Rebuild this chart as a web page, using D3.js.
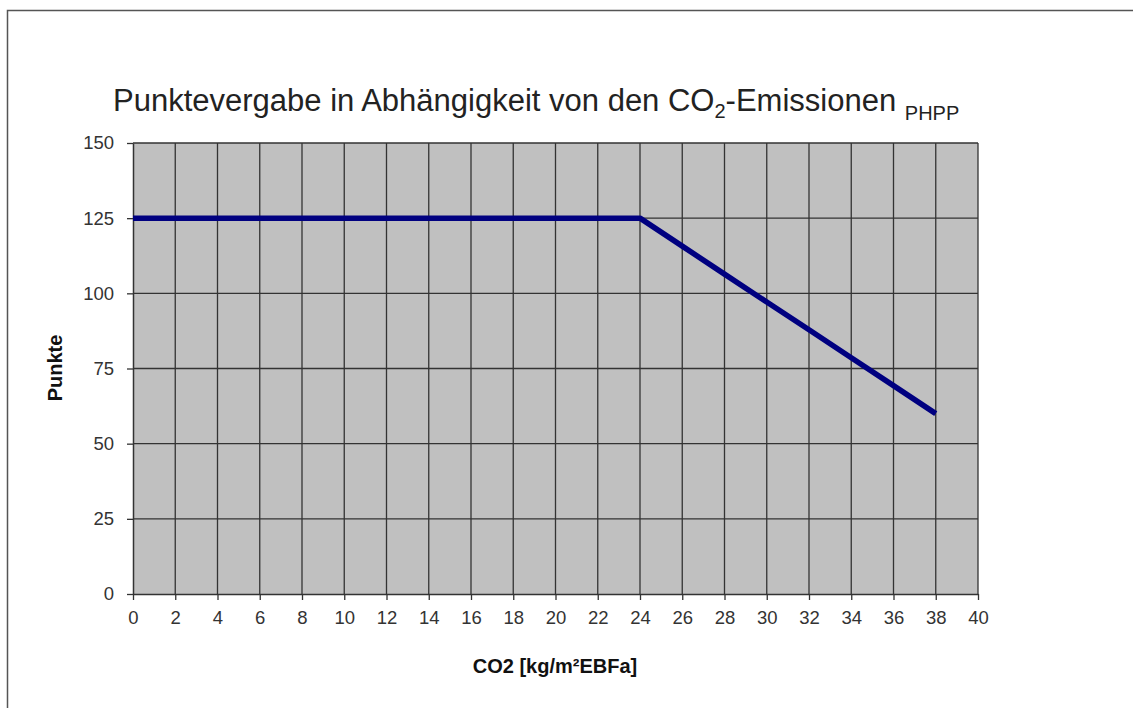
<!DOCTYPE html>
<html><head><meta charset="utf-8">
<script src="https://cdn.jsdelivr.net/npm/d3@7"></script>
<style>body{margin:0;background:#fff;} svg{display:block;font-family:"Liberation Sans",Arial,sans-serif;}</style>
</head><body>
<svg id="c" width="1133" height="708"></svg>
<script>
const xValues = [0, 2, 4, 6, 8, 10, 12, 14, 16, 18, 20, 22, 24, 26, 28, 30, 32, 34, 36, 38];
const yValues = [125, 125, 125, 125, 125, 125, 125, 125, 125, 125, 125, 125, 125, 115.7, 106.4, 97.1, 87.9, 78.6, 69.3, 60];
const xTicks = [0,2,4,6,8,10,12,14,16,18,20,22,24,26,28,30,32,34,36,38,40];
const yTicks = [0,25,50,75,100,125,150];
const titleMain = "Punktevergabe in Abhängigkeit von den CO";
const xLabel = "CO2 [kg/m²EBFa]";
const yLabel = "Punkte";

const svg = d3.select("#c");
// outer border
svg.append("rect").attr("x",7.5).attr("y",10.5).attr("width",1140).attr("height",720)
  .attr("fill","none").attr("stroke","#555").attr("stroke-width",1.5);

const L=133, R=978, T=143, B=594;
const x = d3.scaleLinear().domain([0,40]).range([L,R]);
const y = d3.scaleLinear().domain([0,150]).range([B,T]);

svg.append("rect").attr("x",L).attr("y",T).attr("width",R-L).attr("height",B-T).attr("fill","#c0c0c0");

// grid
svg.append("g").selectAll("line").data(xTicks.slice(1)).join("line")
  .attr("x1",d=>x(d)).attr("x2",d=>x(d)).attr("y1",T).attr("y2",B)
  .attr("stroke","#333").attr("stroke-width",1.3);
svg.append("g").selectAll("line").data(yTicks.slice(1)).join("line")
  .attr("x1",L).attr("x2",R).attr("y1",d=>y(d)).attr("y2",d=>y(d))
  .attr("stroke","#333").attr("stroke-width",1.3);

// axes
const xa = svg.append("g").attr("transform",`translate(0,${B})`)
  .call(d3.axisBottom(x).tickValues(xTicks).tickSize(6).tickSizeOuter(0).tickPadding(11));
const ya = svg.append("g").attr("transform",`translate(${L},0)`)
  .call(d3.axisLeft(y).tickValues(yTicks).tickSize(6).tickSizeOuter(0).tickPadding(13));
[xa,ya].forEach(a=>{
  a.attr("font-size",null).attr("font-family",null);
  a.select(".domain").attr("stroke","#333").attr("stroke-width",1.5);
  a.selectAll(".tick line").attr("stroke","#333").attr("stroke-width",1.3);
  a.selectAll("text").style("font-size","18.5px").attr("fill","#333").style("font-family","Liberation Sans, Arial, sans-serif");
});

// line
const line = d3.line().x((d,i)=>x(xValues[i])).y(d=>y(d));
svg.append("path").datum(yValues).attr("d",line).attr("fill","none")
  .attr("stroke","#000080").attr("stroke-width",5.5).attr("stroke-linejoin","round");

// title
const t = svg.append("text").attr("x",113).attr("y",111).style("font-size","31px").attr("fill","#222");
t.append("tspan").text(titleMain);
t.append("tspan").style("font-size","20px").attr("dy",7).text("2");
t.append("tspan").attr("dy",-7).text("-Emissionen ");
t.append("tspan").style("font-size","20px").attr("dy",9).text("PHPP");

svg.append("text").attr("x",555).attr("y",673).attr("text-anchor","middle")
  .style("font-size","20px").attr("font-weight","bold").attr("fill","#111").text(xLabel);
svg.append("text").attr("transform","translate(62,368) rotate(-90)").attr("text-anchor","middle")
  .style("font-size","20px").attr("font-weight","bold").attr("fill","#111").text(yLabel);
</script>
</body></html>
